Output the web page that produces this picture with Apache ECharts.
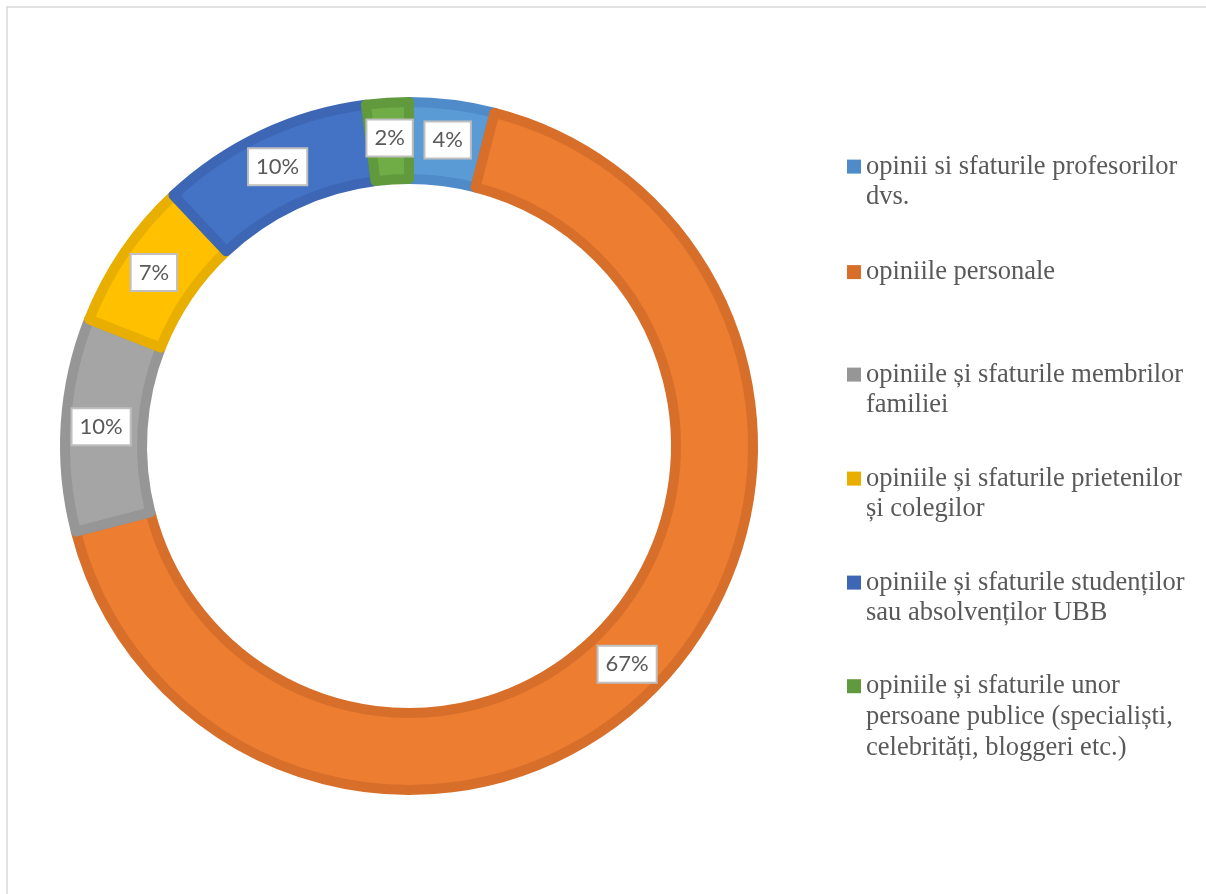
<!DOCTYPE html>
<html>
<head>
<meta charset="utf-8">
<script src="https://cdn.jsdelivr.net/npm/echarts@6/dist/echarts.min.js"></script>
<style>
html,body{margin:0;padding:0;background:#fff;}
#chart{width:1206px;height:894px;}
</style>
</head>
<body>
<div id="chart"></div>
<script>
const categories = [
  'opinii si sfaturile profesorilor dvs.',
  'opiniile personale',
  'opiniile și sfaturile membrilor familiei',
  'opiniile și sfaturile prietenilor și colegilor',
  'opiniile și sfaturile studenților sau absolvenților UBB',
  'opiniile și sfaturile unor persoane publice (specialiști, celebrități, bloggeri etc.)'
];
const values = [4, 67, 10, 7, 10, 2];
const legendLines = [
  ['opinii si sfaturile profesorilor', 'dvs.'],
  ['opiniile personale'],
  ['opiniile și sfaturile membrilor', 'familiei'],
  ['opiniile și sfaturile prietenilor', 'și colegilor'],
  ['opiniile și sfaturile studenților', 'sau absolvenților UBB'],
  ['opiniile și sfaturile unor', 'persoane publice (specialiști,', 'celebrități, bloggeri etc.)']
];
const fillColors = ['#5B9BD5', '#ED7D31', '#A5A5A5', '#FFC000', '#4472C4', '#70AD47'];
const borderColors = ['#4E8BC8', '#D76F2B', '#969696', '#E8AF00', '#3D67B4', '#619A3C'];

const LH = 30.8;
const iconY = [166, 270, 374, 478, 582, 686];
const topFix = { 1: 4, 2: 14, 3: 29 };

const legends = categories.map((name, i) => {
  const lines = legendLines[i];
  const N = lines.length;
  const H = (2 * N - 1) * LH;
  return {
    orient: 'vertical',
    left: 847,
    top: iconY[i] - H / 2 + topFix[N],
    padding: 0,
    itemWidth: 14,
    itemHeight: 14,
    itemGap: 5,
    selectedMode: false,
    icon: 'rect',
    data: [{ name: name, itemStyle: { color: borderColors[i], borderWidth: 0 } }],
    formatter: function () {
      const body = lines.map(l => '{t|' + l + '}').join('\n');
      return N > 1 ? '{sp| }\n' + body : body;
    },
    textStyle: {
      rich: {
        t: { fontFamily: '"Liberation Serif", "Times New Roman", serif', fontSize: 26.5, color: '#595959', lineHeight: LH },
        sp: { fontSize: 4, lineHeight: (N - 1) * LH }
      }
    }
  };
});

const chart = echarts.init(document.getElementById('chart'));
chart.setOption({
  backgroundColor: '#ffffff',
  animation: false,
  graphic: [{
    type: 'rect',
    x: 0, y: 0,
    shape: { x: 7, y: 7, width: 1300, height: 1000 },
    style: { fill: 'none', stroke: '#d9d9d9', lineWidth: 1.5 },
    silent: true
  }],
  legend: legends,
  series: [{
    type: 'pie',
    center: [409, 446],
    radius: [267, 344],
    startAngle: 90,
    clockwise: true,
    emphasis: { disabled: true },
    label: {
      show: true,
      position: 'inside',
      formatter: '{c}%',
      fontFamily: 'Lato, "Open Sans", sans-serif',
      fontSize: 22,
      color: '#595959',
      backgroundColor: '#ffffff',
      borderColor: '#bfbfbf',
      borderWidth: 2,
      padding: [7, 7, 6, 7]
    },
    labelLine: { show: false },
    data: categories.map((name, i) => ({
      name: name,
      value: values[i],
      itemStyle: { color: fillColors[i], borderColor: borderColors[i], borderWidth: 10 }
    }))
  }]
});
</script>
</body>
</html>
